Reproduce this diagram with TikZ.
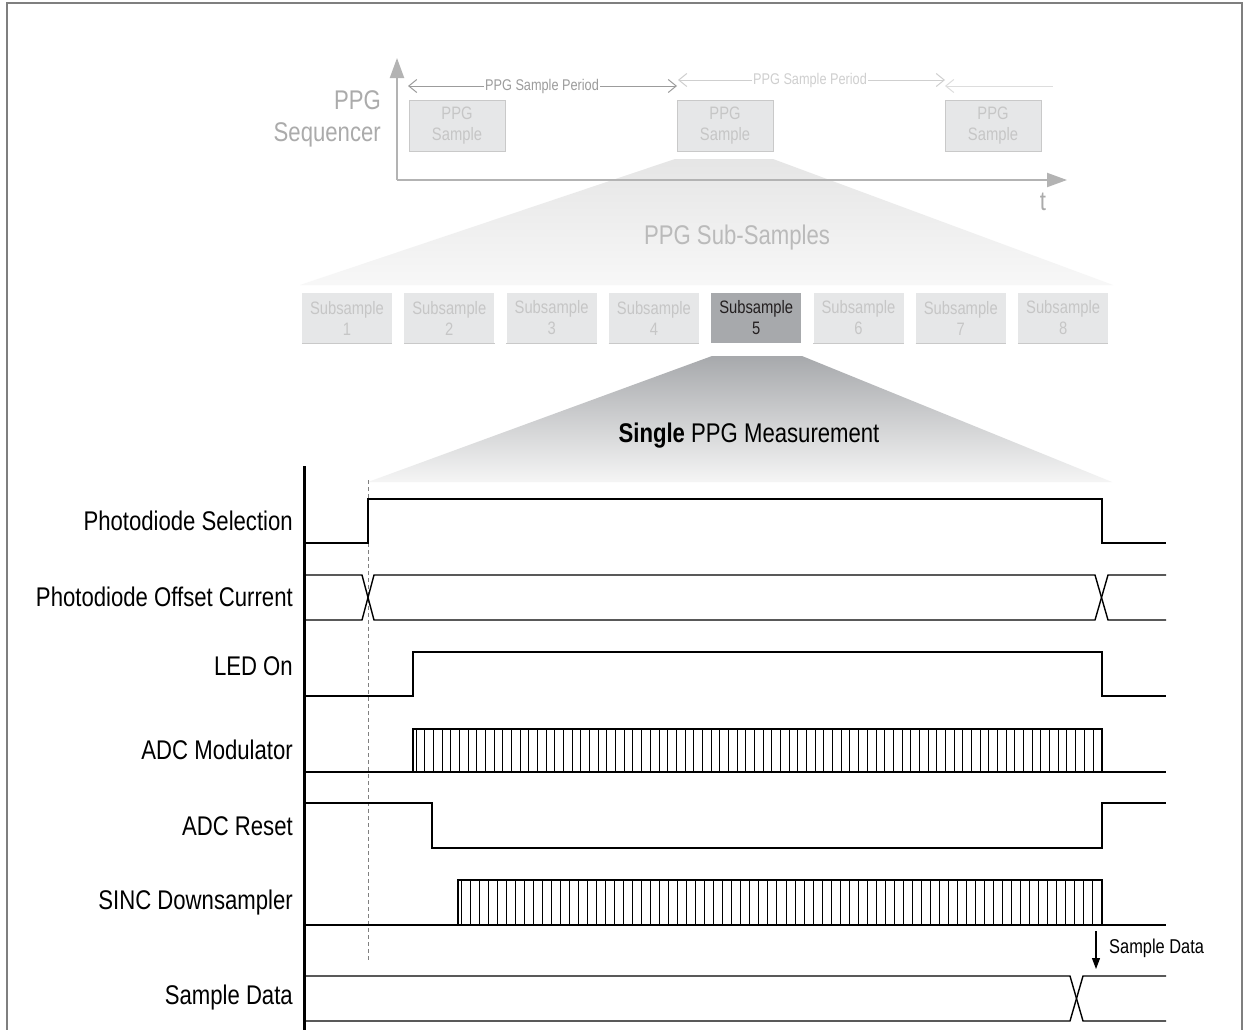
\documentclass[tikz,border=0pt]{standalone}
\usepackage{fontspec}
\setmainfont{Liberation Sans}[FakeStretch=0.82]
\usetikzlibrary{arrows.meta}
\definecolor{frameg}{HTML}{7F7F7F}
\definecolor{boxfill}{HTML}{E6E7E8}
\definecolor{boxline}{HTML}{C9C9C9}
\definecolor{selfill}{HTML}{A7A9AC}
\definecolor{seltext}{HTML}{231F20}
\definecolor{lighttext}{HTML}{C6C6C6}
\definecolor{seqtext}{HTML}{ABABAB}
\definecolor{axisg}{HTML}{B3B3B3}
\definecolor{per1}{HTML}{9C9C9C}
\definecolor{per2}{HTML}{CFCFCF}
\definecolor{per3}{HTML}{DDDDDD}
\begin{document}
\begin{tikzpicture}[x=1pt,y=-1pt,
  sig/.style={line width=1.4pt, black, line join=miter},
  stripe/.style={line width=1.2pt, black},
  lbl/.style={anchor=east, inner sep=0pt, font=\fontsize{27}{30}\selectfont, text=black},
  ppgbox/.style={draw=boxline, line width=1pt, fill=boxfill, minimum width=96pt, minimum height=51pt, inner sep=0pt, align=center, text=lighttext, font=\fontsize{18}{21}\selectfont},
  subbox/.style={fill=boxfill, minimum width=90pt, minimum height=50pt, inner sep=0pt, align=center, text=lighttext, font=\fontsize{18}{21}\selectfont},
  per/.style={line width=1pt, arrows={{Straight Barb[length=8pt,width=13pt]}-{Straight Barb[length=8pt,width=13pt]}}},
  perstart/.style={line width=1pt, arrows={{Straight Barb[length=8pt,width=13pt]}-}},
  pertext/.style={fill=white, inner sep=1pt, font=\fontsize{15.5}{18}\selectfont},
  axisline/.style={axisg, line width=2pt, arrows={-{Triangle[length=20pt,width=14pt]}}}
]
\useasboundingbox (0,0) rectangle (1250,1029);
\fill[white] (0,0) rectangle (1250,1029);
\draw[frameg, line width=2.5pt] (7,3) rectangle (1242,1045);

% ---------- zoom trapezoids ----------
\shade[top color=black!10, bottom color=black!3] (675,159) -- (773,159) -- (1113,285) -- (300,285) -- cycle;
\shade[top color=selfill, bottom color=black!4] (712,356) -- (802,356) -- (1112,482) -- (368,482) -- cycle;

% ---------- PPG sequencer ----------
\coordinate (origin) at (397,180);
\coordinate (ytip) at (397,58);
\coordinate (xtip) at (1067,180);
\draw[axisline] (origin) -- (ytip);
\draw[axisline] (origin) -- (xtip);
\node[anchor=north, inner sep=0pt, text=seqtext, font=\fontsize{27}{30}\selectfont] (tlab) at (1043,193) {t};
\node[anchor=east, inner sep=0pt, align=right, text=seqtext, font=\fontsize{27}{32}\selectfont] (seq) at (381,119) {PPG\\Sequencer};

\node[ppgbox] (s1) at (457,125.5) {PPG\\Sample};
\node[ppgbox] (s2) at (725,125.5) {PPG\\Sample};
\node[ppgbox] (s3) at (993,125.5) {PPG\\Sample};

\coordinate (p1a) at (408,86);
\coordinate (p1b) at (677,86);
\coordinate (p2a) at (678,80);
\coordinate (p2b) at (945,80);
\coordinate (p3a) at (945,86);
\coordinate (p3b) at (1053,86);
\draw[per, per1] (p1a) -- (p1b);
\node[pertext, text=per1] (per1t) at (542,86) {PPG Sample Period};
\draw[per, per2] (p2a) -- (p2b);
\node[pertext, text=per2] (per2t) at (810,80) {PPG Sample Period};
\draw[perstart, per3] (p3a) -- (p3b);

% ---------- sub-samples ----------
\node[text=black!27, font=\fontsize{27}{30}\selectfont] (subt) at (737,238) {PPG Sub-Samples};
\foreach \i in {1,2,3,4,6,7,8} {
  \node[subbox] (ss\i) at ({302+(\i-1)*102.3+45},318) {Subsample\\\i};
  \draw[boxline, line width=1pt] (ss\i.south west) -- (ss\i.south east);
}
\node[subbox, fill=selfill, text=seltext] (ss5) at ({302+4*102.3+45},318) {Subsample\\5};

\node[font=\fontsize{27}{30}\selectfont] (single) at (749,436) {\textbf{Single} PPG Measurement};

% ---------- timing diagram ----------
\coordinate (vaxT) at (304,466);
\coordinate (vaxB) at (304,1035);
\draw[line width=3pt] (vaxT) -- (vaxB);
\coordinate (dashT) at (368.5,480);
\coordinate (dashB) at (368.5,962);
\draw[black!50, line width=1pt, dash pattern=on 4pt off 3pt] (dashT) -- (dashB);

\node[lbl] (l1) at (293,521) {Photodiode Selection};
\node[lbl] (l2) at (293,597) {Photodiode Offset Current};
\node[lbl] (l3) at (293,666) {LED On};
\node[lbl] (l4) at (293,750) {ADC Modulator};
\node[lbl] (l5) at (293,826) {ADC Reset};
\node[lbl] (l6) at (293,903) {SINC Downsampler};
\node[lbl] (l7) at (293,998) {Sample Data};

% Photodiode Selection
\draw[sig] (304,543) -- (368,543) -- (368,499) -- (1102,499) -- (1102,543) -- (1166,543);
% Photodiode Offset Current
\draw[sig] (304,575) -- (362,575) -- (374,620) -- (1095,620) -- (1108,575) -- (1166,575);
\draw[sig] (304,620) -- (362,620) -- (374,575) -- (1095,575) -- (1108,620) -- (1166,620);
% LED On
\draw[sig] (304,696) -- (413,696) -- (413,652) -- (1102,652) -- (1102,696) -- (1166,696);
% ADC Modulator
\draw[sig] (304,772) -- (1166,772);
\draw[sig] (413,772) -- (413,729) -- (1102,729) -- (1102,772);
\foreach \k in {0,...,79} \draw[stripe] ({int(416+\k*8.68)+0.5},729) -- ({int(416+\k*8.68)+0.5},772);
% ADC Reset
\draw[sig] (304,803) -- (432,803) -- (432,848) -- (1102,848) -- (1102,803) -- (1166,803);
% SINC Downsampler
\draw[sig] (304,925) -- (1166,925);
\draw[sig] (458,925) -- (458,880) -- (1102,880) -- (1102,925);
\foreach \k in {0,...,71} \draw[stripe] ({int(461+\k*9.028)+0.5},880) -- ({int(461+\k*9.028)+0.5},925);
% Sample Data
\draw[sig] (304,976) -- (1070,976) -- (1083,1021) -- (1166,1021);
\draw[sig] (304,1021) -- (1070,1021) -- (1083,976) -- (1166,976);

% Sample data arrow
\coordinate (sdA) at (1096,931);
\coordinate (sdB) at (1096,969);
\draw[line width=1.2pt, arrows={-{Triangle[length=11pt,width=8pt]}}] (sdA) -- (sdB);
\node[anchor=west, inner sep=0pt, font=\fontsize{20}{24}\selectfont] (sdl) at (1109,948) {Sample Data};
\end{tikzpicture}
\end{document}
